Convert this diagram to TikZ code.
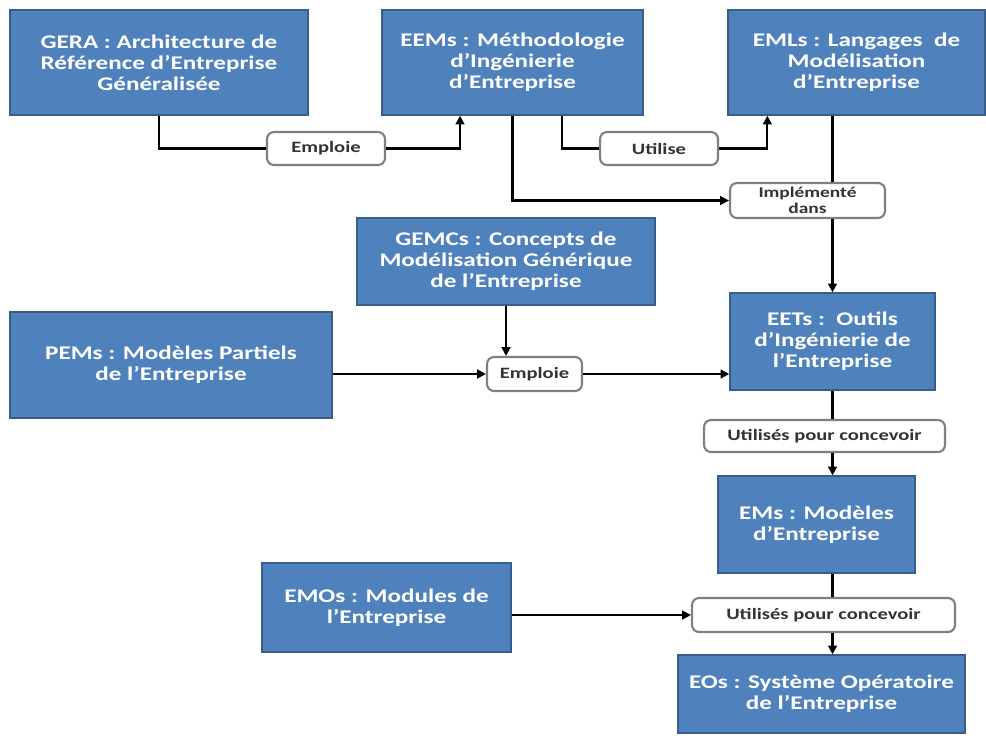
\documentclass[tikz,border=0pt]{standalone}
\usepackage{fontspec}
\setmainfont[FakeStretch=1.3]{Carlito}
\usetikzlibrary{arrows.meta,calc}
\definecolor{boxblue}{HTML}{4F81BD}
\definecolor{boxedge}{HTML}{385D8A}
\definecolor{tagedge}{HTML}{7F7F7F}
\begin{document}
\begin{tikzpicture}[x=0.02cm, y=-0.02cm,
	box/.style={rectangle, fill=boxblue, draw=boxedge, line width=0.8pt, text=white, font=\fontsize{11}{12}\selectfont\bfseries, align=center, inner sep=2pt},
	tag/.style={rectangle, rounded corners=4pt, fill=white, draw=tagedge, line width=1.2pt, text=black!80, font=\fontsize{9}{9.5}\selectfont\bfseries, align=center, inner sep=1pt},
	link/.style={line width=1.2pt},
	arr/.style={line width=1.2pt, -{Triangle[length=5pt,width=5pt]}}]
	    \useasboundingbox (0,0) rectangle (986,735);
	    \node[box, minimum width=5.96cm, minimum height=2.1cm] (1) at (159,62.5) {GERA : Architecture de\\Référence d’Entreprise\\Généralisée};
	    \node[box, minimum width=5.22cm, minimum height=2.1cm] (2) at (512.5,62.5) {EEMs : Méthodologie\\d’Ingénierie\\d’Entreprise};
	    \node[box, minimum width=5.14cm, minimum height=2.1cm] (3) at (856.5,62.5) {EMLs : Langages\ \ de\\Modélisation\\d’Entreprise};
	    \node[box, minimum width=5.96cm, minimum height=1.74cm] (4) at (506,261.5) {GEMCs : Concepts de\\Modélisation Générique\\de l’Entreprise};
	    \node[box, minimum width=6.44cm, minimum height=2.12cm] (5) at (171,365) {PEMs : Modèles Partiels\\de l’Entreprise};
	    \node[box, minimum width=4.1cm, minimum height=1.94cm] (6) at (832.5,341.5) {EETs :\ \ Outils\\d’Ingénierie de\\l’Entreprise};
	    \node[box, minimum width=3.94cm, minimum height=1.94cm] (7) at (816.5,524.5) {EMs : Modèles\\d’Entreprise};
	    \node[box, minimum width=4.98cm, minimum height=1.78cm] (8) at (386.5,607.5) {EMOs : Modules de\\l’Entreprise};
	    \node[box, minimum width=5.74cm, minimum height=1.56cm] (9) at (821.5,694) {EOs : Système Opératoire\\de l’Entreprise};
	    \node[tag, minimum width=2.36cm, minimum height=0.66cm] (10) at (326,148.5) {Emploie};
	    \node[tag, minimum width=2.36cm, minimum height=0.66cm] (11) at (659,148.5) {Utilise};
	    \node[tag, minimum width=3.1cm, minimum height=0.7cm, font=\fontsize{8.5}{9}\selectfont\bfseries] (12) at (807.5,200.5) {Implémenté\\dans};
	    \node[tag, minimum width=1.9cm, minimum height=0.68cm] (13) at (534.5,374) {Emploie};
	    \node[tag, minimum width=4.82cm, minimum height=0.64cm] (14) at (824.5,436) {Utilisés pour\ concevoir};
	    \node[tag, minimum width=5.26cm, minimum height=0.68cm] (15) at (823.5,615) {Utilisés pour\ concevoir};
	    \draw[link] (1.south) |- (10.west);
	    \draw[arr] (10.east) -| ($(2.south west)!0.3!(2.south east)$);
	    \draw[link] ($(2.south west)!0.69!(2.south east)$) |- (11.west);
	    \draw[arr] (11.east) -| ($(3.south west)!0.155!(3.south east)$);
	    \draw[arr] (2.south) |- (12.west);
	    \draw[link] (3.south -| 6.north) -- (12.north -| 6.north);
	    \draw[arr] (12.south -| 6.north) -- (6.north);
	    \draw[arr] (4.south) -- (4.south |- 13.north);
	    \draw[arr] (5.east |- 13.west) -- (13.west);
	    \draw[arr] (13.east) -- (13.east -| 6.west);
	    \draw[link] (6.south) -- (6.south |- 14.north);
	    \draw[arr] (14.south -| 6.south) -- (7.north -| 6.south);
	    \draw[link] (7.south -| 6.south) -- (15.north -| 6.south);
	    \draw[arr] (15.south -| 6.south) -- (9.north -| 6.south);
	    \draw[arr] (8.east |- 15.west) -- (15.west);
	\end{tikzpicture}
\end{document}
